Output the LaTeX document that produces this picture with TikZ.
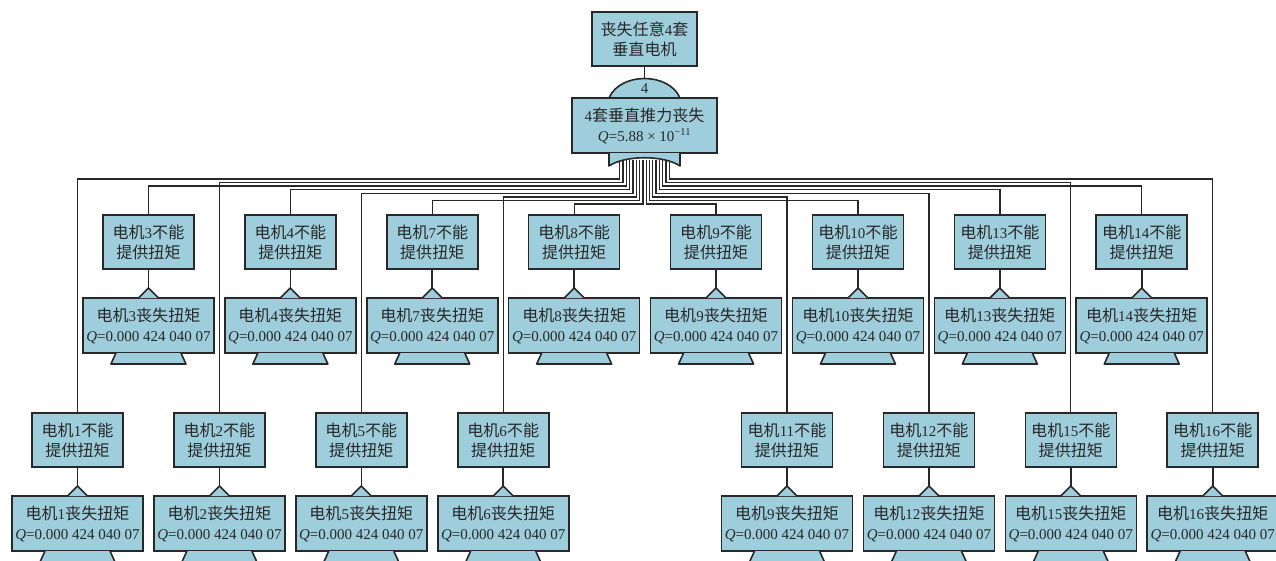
\documentclass[tikz,border=0pt]{standalone}
\usepackage{fontspec}
\setmainfont{Liberation Serif}
\newfontfamily\cjk{Noto Sans CJK SC}[Scale=1.07]
\usetikzlibrary{calc}
\definecolor{boxfill}{RGB}{158,206,220}
\definecolor{ink}{RGB}{40,40,40}
\newcommand\zh[1]{{\cjk #1}}
\newcommand\mA[1]{\zh{电机}#1\zh{不能}\\\zh{提供扭矩}}
\newcommand\mB[1]{\zh{电机}#1\zh{丧失扭矩}\\\textit{Q}=0.000 424 040 07}
\begin{document}
\begin{tikzpicture}[x=1pt,y=-1pt,
  every node/.style={font=\fontsize{15}{20}\selectfont, text=ink},
  boxA/.style={draw=ink, fill=boxfill, line width=1.6pt, minimum width=91pt, minimum height=54pt, inner sep=0pt, outer sep=0pt, align=center},
  boxB/.style={boxA, minimum width=131pt, minimum height=55pt},
  gateshape/.style={draw=ink, fill=boxfill, line width=1.6pt, line join=round},
  conn/.style={draw=ink, line width=1.6pt},
  fan/.style={draw=ink, line width=1.3pt}]
\useasboundingbox (0,0) rectangle (1276,560);
\begin{scope}
\clip (0,0) rectangle (1276,560);

% top event
\node[boxA, minimum width=105pt] (top) at (644.5,39) {\zh{丧失任意}4\zh{套}\\\zh{垂直电机}};
\coordinate (domeTop) at (644.5,78.5);
\draw[conn] (top.south) -- (domeTop);
\path[gateshape] (609,98) .. controls (620,72) and (669,72) .. (680,98) -- cycle;
\node (vote) at (644.5,89) {4};
\node[boxA, minimum width=145pt, minimum height=55pt] (g) at (644.5,125.5)
  {4\zh{套垂直推力丧失}\\\textit{Q}=5.88 × 10\textsuperscript{−11}};

% motor columns
\foreach \x/\n/\m/\yy in {
  148.45/3/3/0, 290.35/4/4/0, 432.25/7/7/0, 574.15/8/8/0,
  716.05/9/9/0, 857.95/10/10/0, 999.85/13/13/0, 1141.75/14/14/0,
  77.5/1/1/198, 219.4/2/2/198, 361.3/5/5/198, 503.2/6/6/198,
  787.0/11/9/198, 928.9/12/12/198, 1070.8/15/15/198, 1212.7/16/16/198}{
  \node[boxA] (a\n) at (\x,{242+\yy}) {\mA{\n}};
  \node[boxB] (b\n) at (\x,{325.5+\yy}) {\mB{\m}};
  \coordinate (t\n) at (\x,{288+\yy});
  \draw[conn] (a\n.south) -- (t\n);
  \path[gateshape] ([xshift=-10pt]b\n.north) -- (t\n) -- ([xshift=10pt]b\n.north);
  \path[gateshape] ([xshift=-32.5pt]b\n.south) -- ++(-5,11) -- ++(75,0) -- ([xshift=32.5pt]b\n.south);
}

% fan of connectors
\foreach \k in {1,...,16}{
  \pgfmathsetmacro\xs{644.5+(\k-8.5)*3.3}
  \pgfmathsetmacro\dv{(\k<9 ? 179+(\k-1)*3.57 : 179+(16-\k)*3.57)-160}
  \coordinate (s\k) at (\xs,160);
  \draw[fan] (s\k) -- ++(0,\dv) -| (a\k.north);
}
% lower part of the gate
\path[gateshape] (609,153) -- (609,166) .. controls (625,155) and (664,155) .. (680,166) -- (680,153);
\end{scope}
\end{tikzpicture}
\end{document}
